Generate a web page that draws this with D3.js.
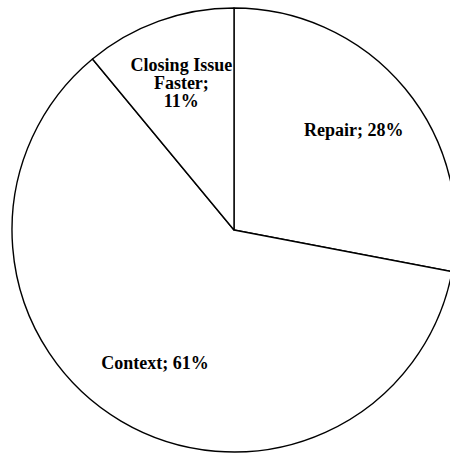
<!DOCTYPE html>
<html>
<head>
<meta charset="utf-8">
<script src="https://cdn.jsdelivr.net/npm/d3@7"></script>
<style>
  body { margin: 0; background: #fff; }
  svg { display: block; }
</style>
</head>
<body>
<svg></svg>
<script>
// Pie data
var categories = ["Repair", "Context", "Closing Issue Faster"];
var values = [28, 61, 11];
var labelLines = [["Repair; 28%"], ["Context; 61%"], ["Closing Issue", "Faster;", "11%"]];

var width = 450, height = 453,
    cx = 234, cy = 230, radius = 222;

var svg = d3.select("svg")
    .attr("width", width)
    .attr("height", height);

var g = svg.append("g")
    .attr("transform", "translate(" + cx + "," + cy + ")");

var pie = d3.pie().sort(null).value(function(d) { return d; });
var arcs = pie(values);

var arc = d3.arc().innerRadius(0).outerRadius(radius);
var labelArc = d3.arc().innerRadius(radius * 0.7).outerRadius(radius * 0.7);

g.selectAll("path")
    .data(arcs)
    .enter()
    .append("path")
    .attr("d", arc)
    .attr("fill", "#fff")
    .attr("stroke", "#000")
    .attr("stroke-width", 1.4)
    .attr("stroke-linejoin", "round");

// Labels
var lineH = 18;
g.selectAll("text.lbl")
    .data(arcs)
    .enter()
    .append("text")
    .attr("class", "lbl")
    .attr("font-family", "'Liberation Serif', 'Times New Roman', serif")
    .attr("font-weight", "bold")
    .attr("font-size", "18px")
    .attr("text-anchor", "middle")
    .attr("fill", "#000")
    .each(function(d, i) {
      var c = labelArc.centroid(d);
      var lines = labelLines[i];
      var y0 = c[1] - 1 - (lines.length - 1) * lineH / 2;
      var t = d3.select(this);
      lines.forEach(function(s, k) {
        t.append("tspan")
          .attr("x", c[0])
          .attr("y", y0 + k * lineH)
          .attr("dy", "0.35em")
          .text(s);
      });
    });
</script>
</body>
</html>
